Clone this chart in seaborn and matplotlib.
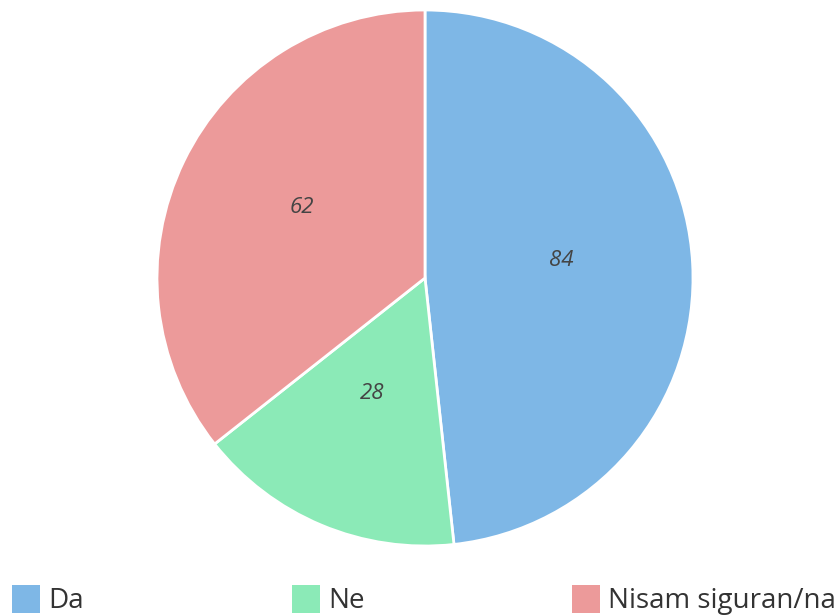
import matplotlib
matplotlib.use("Agg")
import matplotlib.pyplot as plt
import seaborn as sns
from matplotlib.patches import Rectangle

# Data
categories = ["Da", "Ne", "Nisam siguran/na"]
counts = [84, 28, 62]
colors = ["#7EB7E6", "#8BEAB7", "#EC9A9A"]

sns.set_style("white")
plt.rcParams["font.family"] = ["Open Sans", "DejaVu Sans"]

W, H = 840, 615
fig = plt.figure(figsize=(W / 100, H / 100), dpi=100)

# pie centred at (425, 278) px with radius 268 px
cx, cy, r = 425, 278, 268
ax = fig.add_axes([(cx - r) / W, (H - cy - r) / H, 2 * r / W, 2 * r / H])
wedges, texts = ax.pie(
    counts, colors=colors, startangle=90, counterclock=False,
    labels=[str(c) for c in counts], labeldistance=0.51,
    wedgeprops=dict(edgecolor="white", linewidth=2),
    textprops=dict(fontsize=16, style="italic", color="#444444"),
)
for t in texts:
    t.set_ha("center")
    t.set_va("bottom")
ax.set_xlim(-1, 1)
ax.set_ylim(-1, 1)
ax.set_aspect("equal")
ax.axis("off")

# legend along the bottom
leg_x = [12, 292, 572]
for x, lab, col in zip(leg_x, categories, colors):
    fig.add_artist(Rectangle((x / W, (H - 613) / H), 28 / W, 28 / H,
                             transform=fig.transFigure, facecolor=col,
                             edgecolor="none"))
    fig.text((x + 36) / W, (H - 608) / H, lab, fontsize=20, color="#333333",
             va="baseline", ha="left")

fig.savefig("out.png", dpi=100)
